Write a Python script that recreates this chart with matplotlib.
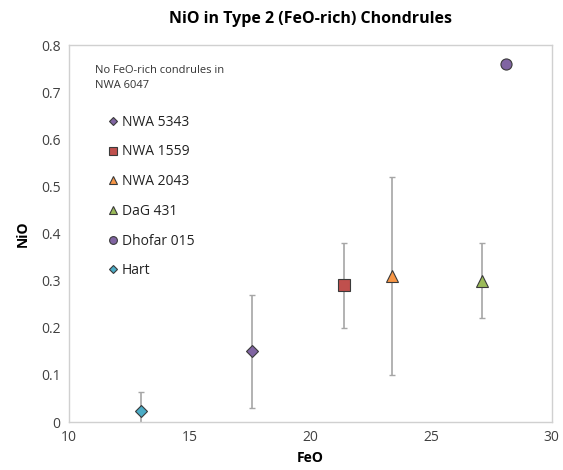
import matplotlib
matplotlib.use("Agg")
import matplotlib.pyplot as plt

names = ["NWA 5343", "NWA 1559", "NWA 2043", "DaG 431", "Dhofar 015", "Hart"]
feo = [17.6, 21.4, 23.4, 27.1, 28.1, 13.0]
nio = [0.15, 0.29, 0.31, 0.30, 0.76, 0.023]
err = [0.12, 0.09, 0.21, 0.08, 0.0, 0.04]
markers = ["D", "s", "^", "^", "o", "D"]
colors = ["#8064A2", "#C0504D", "#F79646", "#9BBB59", "#8064A2", "#4BACC6"]
sizes = [6, 8, 8, 8, 8, 6]

plt.rcParams['font.family'] = ['Open Sans', 'DejaVu Sans']

fig = plt.figure(figsize=(5.63, 4.7), dpi=100)
ax = fig.add_axes([0.1226, 0.1021, 0.8574, 0.802])

for n, x, y, e, m, c, s in zip(names, feo, nio, err, markers, colors, sizes):
    if e > 0:
        ax.errorbar(x, y, yerr=e, fmt='none', ecolor='#A6A6A6', elinewidth=1.2,
                    capsize=2.5, capthick=1.0, zorder=2)
    ax.plot(x, y, linestyle='none', marker=m, markersize=s, markerfacecolor=c,
            markeredgecolor='#3a3a3a', markeredgewidth=0.8, label=n, zorder=3)

ax.set_xlim(10, 30)
ax.set_ylim(0, 0.8)
ax.set_xticks([10, 15, 20, 25, 30])
ax.set_yticks([0, 0.1, 0.2, 0.3, 0.4, 0.5, 0.6, 0.7, 0.8])
ax.set_yticklabels(["0", "0.1", "0.2", "0.3", "0.4", "0.5", "0.6", "0.7", "0.8"])
ax.tick_params(length=0, labelsize=10, colors='#404040', pad=6)
for sp in ax.spines.values():
    sp.set_color('#D0D0D0')
    sp.set_linewidth(1.0)

ax.set_title("NiO in Type 2 (FeO-rich) Chondrules", fontsize=11.5, fontweight='bold', pad=16)
ax.set_xlabel("FeO", fontsize=10, fontweight='bold', labelpad=4)
ax.set_ylabel("NiO", fontsize=10, fontweight='bold', labelpad=8)

ax.text(0.054, 0.948, "No FeO-rich condrules in\nNWA 6047", transform=ax.transAxes,
        fontsize=8, va='top', ha='left', color='#333333', linespacing=1.6)

leg = ax.legend(loc='upper left', bbox_to_anchor=(0.066, 0.83), frameon=False,
                fontsize=10, handletextpad=0.1, labelspacing=1.06, borderaxespad=0,
                handlelength=1.0, markerscale=0.7)
for t in leg.get_texts():
    t.set_color('#222222')

fig.savefig("out.png", dpi=100)
